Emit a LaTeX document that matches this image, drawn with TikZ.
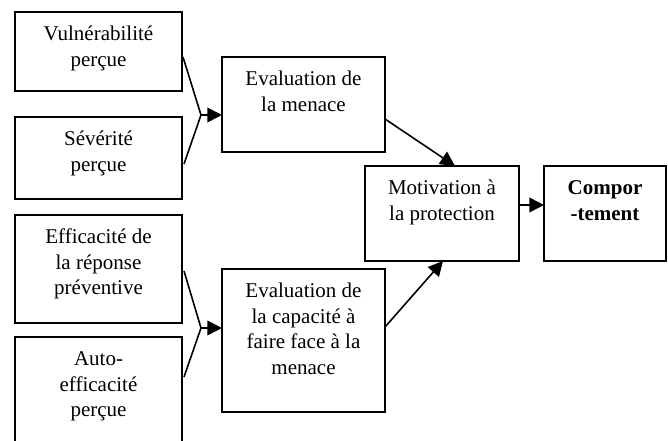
\documentclass[tikz,border=0pt]{standalone}
\usepackage{fontspec}
\setmainfont{Liberation Serif}
\usetikzlibrary{arrows.meta}

\begin{document}
\begin{tikzpicture}[x=0.75pt,y=-0.75pt]
				\tikzstyle{every node}+=[inner sep=0pt]
				\tikzstyle{box}=[draw=black, line width=1.2pt, outer sep=0pt]
				\tikzstyle{txt}=[anchor=north, yshift=-8pt, align=center, font=\fontsize{15.75}{19.1}\selectfont]
				\tikzstyle{pfeil}=[black, line width=1.2pt, -{Triangle[length=11pt,width=11pt]}]
				\useasboundingbox (0,0) rectangle (668,441);
				\clip (0,0) rectangle (668,441);
				\node [box, minimum width=167*0.75pt, minimum height=79*0.75pt] (vuln) at (98.5,51.5) {};
				\node [txt] (vuln-t) at (vuln.north) {\strut Vulnérabilité\\perçue};
				\node [box, minimum width=167*0.75pt, minimum height=82*0.75pt] (sev) at (98.5,158) {};
				\node [txt] (sev-t) at (sev.north) {\strut Sévérité\\perçue};
				\node [box, minimum width=167*0.75pt, minimum height=108*0.75pt] (eff) at (98.5,269) {};
				\node [txt] (eff-t) at (eff.north) {\strut Efficacité de\\la réponse\\préventive};
				\node [box, minimum width=167*0.75pt, minimum height=118*0.75pt] (auto) at (98.5,396) {};
				\node [txt] (auto-t) at (auto.north) {\strut Auto-\\efficacité\\perçue};
				\node [box, minimum width=163*0.75pt, minimum height=95*0.75pt] (menace) at (303.5,104.5) {};
				\node [txt] (menace-t) at (menace.north) {\strut Evaluation de\\la menace};
				\node [box, minimum width=163*0.75pt, minimum height=143*0.75pt] (capa) at (303.5,340.5) {};
				\node [txt] (capa-t) at (capa.north) {\strut Evaluation de\\la capacité à\\faire face à la\\menace};
				\node [box, minimum width=154*0.75pt, minimum height=95*0.75pt] (motiv) at (442,213.5) {};
				\node [txt] (motiv-t) at (motiv.north) {\strut Motivation à\\la protection};
				\node [box, minimum width=122*0.75pt, minimum height=95*0.75pt] (comp) at (605,213.5) {};
				\node [txt] (comp-t) at (comp.north) {\strut\bfseries Compor\\\bfseries -tement};
				% chevrons
				\coordinate (jm) at (201,115);
				\coordinate (jc) at (201,328);
				\draw [black, line width=1.2pt] ([shift={(1,5.5)}]vuln.east) -- (jm) -- ([shift={(2,6)}]sev.east);
				\draw [pfeil] (jm) -- (jm -| menace.west);
				\draw [black, line width=1.2pt] ([shift={(2,2)}]eff.east) -- (jc) -- ([shift={(2,-19)}]auto.east);
				\draw [pfeil] (jc) -- (jc -| capa.west);
				% to motivation
				\draw [pfeil] ([shift={(0,14.5)}]menace.east) -- ([shift={(13,0)}]motiv.north);
				\draw [pfeil] ([shift={(0,-13.5)}]capa.east) -- ([shift={(1,0)}]motiv.south);
				\draw [pfeil] ([shift={(0,-8.5)}]motiv.east) -- ([shift={(0,-8.5)}]comp.west);
\end{tikzpicture}
\end{document}
